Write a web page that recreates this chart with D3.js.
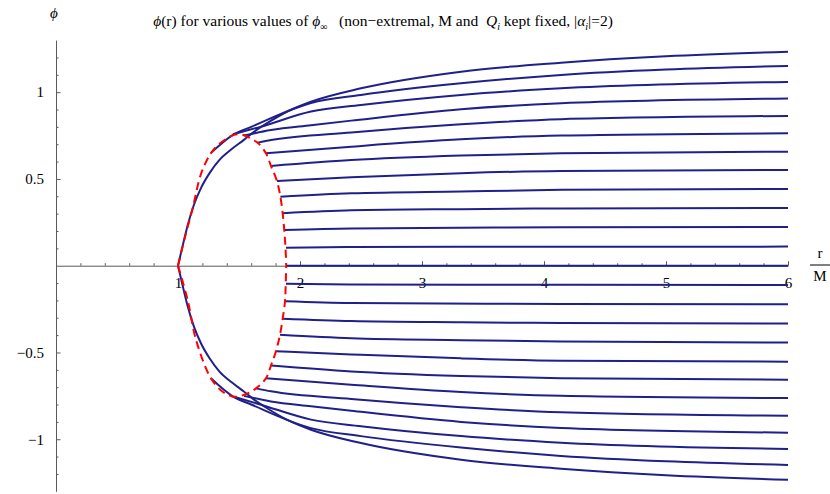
<!DOCTYPE html>
<html>
<head>
<meta charset="utf-8">
<script src="https://cdn.jsdelivr.net/npm/d3@7"></script>
<style>
  body { margin: 0; background: #fff; }
</style>
</head>
<body>
<div id="chart"></div>
<script>
// curves of phi(r), one per value of phi_inf, each as [r/M, phi]
const upperCurves = [
    [[1.885, 0.104], [2.42, 0.108], [4.14, 0.109], [6, 0.110]],
    [[1.871, 0.206], [2.42, 0.215], [4.14, 0.221], [6, 0.223]],
    [[1.858, 0.302], [2.42, 0.319], [3.32, 0.326], [4.14, 0.330], [6, 0.333]],
    [[1.839, 0.398], [2.42, 0.417], [3.32, 0.428], [4.14, 0.437], [6, 0.442]],
    [[1.811, 0.488], [2.42, 0.509], [3.32, 0.533], [4.14, 0.546], [6, 0.552]],
    [[1.762, 0.575], [2.42, 0.609], [3.32, 0.635], [4.14, 0.648], [6, 0.657]],
    [[1.721, 0.648], [2.42, 0.686], [3.32, 0.728], [4.14, 0.750], [6, 0.763]],
    [[1.653, 0.709], [1.762, 0.724], [2.42, 0.768], [3.32, 0.815], [4.14, 0.844], [6, 0.863]],
    [[1.541, 0.750], [1.762, 0.782], [2.09, 0.810], [2.42, 0.836], [3.32, 0.901], [4.14, 0.936], [6, 0.963]],
    [[1.45, 0.757], [1.68, 0.801], [2.09, 0.888], [2.5, 0.926], [3.32, 0.984], [4.14, 1.022], [6, 1.059]],
    [[1.27, 0.650], [1.451, 0.754], [1.6, 0.800], [2.09, 0.938], [2.5, 0.984], [3.32, 1.051], [4.14, 1.099], [5, 1.130], [6, 1.151]],
    [[1, 0], [1.04, 0.12], [1.08, 0.235], [1.13, 0.35], [1.19, 0.45], [1.26, 0.535], [1.34, 0.61], [1.44, 0.672], [1.54, 0.725],
     [1.62, 0.77], [1.75, 0.83], [1.9, 0.89], [2.09, 0.945], [2.5, 1.022], [3.32, 1.118], [4.14, 1.170], [5, 1.207], [6, 1.233]]
];

const zeroCurve = [[1.885, 0], [6, 0]];

const lowerCurves = [
    [[1.885, -0.104], [2.42, -0.108], [4.14, -0.110], [6, -0.111]],
    [[1.877, -0.205], [2.42, -0.215], [4.14, -0.220], [6, -0.222]],
    [[1.858, -0.305], [2.42, -0.319], [3.32, -0.326], [4.14, -0.330], [6, -0.333]],
    [[1.836, -0.398], [2.42, -0.418], [3.32, -0.429], [4.14, -0.437], [6, -0.443]],
    [[1.803, -0.493], [2.42, -0.511], [3.32, -0.534], [4.14, -0.547], [6, -0.553]],
    [[1.762, -0.575], [2.42, -0.609], [3.32, -0.635], [4.14, -0.648], [6, -0.657]],
    [[1.721, -0.649], [2.42, -0.686], [3.32, -0.728], [4.14, -0.750], [6, -0.763]],
    [[1.639, -0.707], [1.762, -0.724], [2.42, -0.768], [3.32, -0.815], [4.14, -0.845], [6, -0.865]],
    [[1.541, -0.750], [1.762, -0.782], [2.09, -0.810], [2.42, -0.836], [3.32, -0.900], [4.14, -0.935], [6, -0.962]],
    [[1.459, -0.755], [1.68, -0.801], [2.09, -0.887], [2.5, -0.925], [3.32, -0.982], [4.14, -1.020], [6, -1.056]],
    [[1.27, -0.649], [1.451, -0.754], [1.6, -0.800], [2.09, -0.936], [2.5, -0.982], [3.32, -1.048], [4.14, -1.096], [5, -1.127], [6, -1.148]],
    [[1, 0], [1.04, -0.12], [1.08, -0.235], [1.13, -0.35], [1.19, -0.45], [1.26, -0.535], [1.34, -0.61], [1.44, -0.672], [1.54, -0.725],
     [1.62, -0.77], [1.75, -0.83], [1.9, -0.89], [2.09, -0.945], [2.5, -1.022], [3.32, -1.118], [4.14, -1.170], [5, -1.208], [6, -1.234]]
];

// dashed red locus of the horizon values
const horizonUpper = [
    [1, 0], [1.066, 0.189], [1.12, 0.330], [1.189, 0.530], [1.27, 0.648], [1.336, 0.700],
    [1.459, 0.754], [1.541, 0.752], [1.612, 0.726], [1.653, 0.709], [1.721, 0.648],
    [1.762, 0.575], [1.811, 0.488], [1.839, 0.398], [1.858, 0.302], [1.871, 0.206],
    [1.881, 0.104], [1.887, 0]
];
const horizonLower = [
    [1, 0], [1.08, -0.200], [1.148, -0.428], [1.27, -0.649], [1.366, -0.726],
    [1.459, -0.755], [1.557, -0.740], [1.639, -0.707], [1.721, -0.649], [1.762, -0.575],
    [1.803, -0.493], [1.836, -0.398], [1.858, -0.305], [1.877, -0.205], [1.883, -0.104], [1.887, 0]
];

const xTicks = [1, 2, 3, 4, 5, 6];
const yTicks = [-1, -0.5, 0.5, 1];
const yTickLabels = ["\u22121", "\u22120.5", "0.5", "1"];

const width = 830;
const height = 494;
const blue = "#20208a";
const axisGray = "#5a5a5a";
const PHI = "\u03d5";
const SERIF = "'Liberation Serif', 'Times New Roman', Times, serif";

const svg = d3.select("#chart").append("svg")
    .attr("width", width)
    .attr("height", height)
    .attr("font-family", SERIF);

const x = d3.scaleLinear().domain([0, 6]).range([56, 788]);
const y = d3.scaleLinear().domain([-1.3, 1.3]).range([491.3, 40.1]);

// x axis: minor ticks, then major ticks with labels
const xMinor = d3.range(1, 31).map(i => i / 5).filter(v => Math.abs(v - Math.round(v)) > 1e-6);
svg.append("g")
    .attr("transform", `translate(0,${y(0)})`)
    .call(d3.axisBottom(x).tickValues(xMinor).tickSize(-2.5).tickSizeOuter(0).tickFormat(""))
    .call(g => g.select(".domain").remove());
svg.append("g")
    .attr("transform", `translate(0,${y(0)})`)
    .call(d3.axisBottom(x).tickValues(xTicks).tickSize(-4.5).tickSizeOuter(0).tickPadding(12).tickFormat(d3.format("d")))
    .attr("font-family", SERIF)
    .attr("font-size", 15)
    .call(g => g.selectAll("text").attr("fill", "#000"));

// y axis
const yMinor = d3.range(-12, 13).map(i => i / 10).filter(v => Math.abs(v * 2 - Math.round(v * 2)) > 1e-6);
svg.append("g")
    .attr("transform", `translate(${x(0)},0)`)
    .call(d3.axisLeft(y).tickValues(yMinor).tickSize(-2.5).tickSizeOuter(0).tickFormat(""))
    .call(g => g.select(".domain").remove());
svg.append("g")
    .attr("transform", `translate(${x(0)},0)`)
    .call(d3.axisLeft(y).tickValues(yTicks).tickSize(-4.5).tickSizeOuter(0).tickPadding(12)
        .tickFormat((d, i) => yTickLabels[i]))
    .attr("font-family", SERIF)
    .attr("font-size", 15)
    .call(g => g.selectAll("text").attr("fill", "#000"));

svg.selectAll(".domain, .tick line").attr("stroke", axisGray).attr("stroke-width", 1);

// blue curves
const line = d3.line()
    .x(d => x(d[0]))
    .y(d => y(d[1]))
    .curve(d3.curveMonotoneX);

const allCurves = upperCurves.concat([zeroCurve], lowerCurves);
svg.append("g").selectAll("path")
    .data(allCurves)
    .enter()
    .append("path")
    .attr("d", line)
    .attr("fill", "none")
    .attr("stroke", blue)
    .attr("stroke-width", 2);

// red dashed horizon locus
const loop = d3.line()
    .x(d => x(d[0]))
    .y(d => y(d[1]))
    .curve(d3.curveCatmullRom.alpha(0.5));

svg.append("g").selectAll("path")
    .data([horizonUpper, horizonLower])
    .enter()
    .append("path")
    .attr("d", loop)
    .attr("fill", "none")
    .attr("stroke", "#ff0000")
    .attr("stroke-width", 2)
    .attr("stroke-dasharray", "8,5");

// title
const title = svg.append("text")
    .attr("x", 383)
    .attr("y", 26)
    .attr("text-anchor", "middle")
    .attr("font-family", SERIF)
    .attr("font-size", 15.5)
    .style("white-space", "pre");
title.append("tspan").attr("font-style", "italic").text(PHI);
title.append("tspan").text("(r) for various values of ");
title.append("tspan").attr("font-style", "italic").text(PHI);
title.append("tspan").attr("font-size", 10).attr("dy", 4).text("\u221e");
title.append("tspan").attr("dy", -4).text("   (non\u2212extremal, M and  ");
title.append("tspan").attr("font-style", "italic").text("Q");
title.append("tspan").attr("font-style", "italic").attr("font-size", 10).attr("dy", 4).text("i");
title.append("tspan").attr("dy", -4).text(" kept fixed, |");
title.append("tspan").attr("font-style", "italic").text("\u03b1");
title.append("tspan").attr("font-style", "italic").attr("font-size", 10).attr("dy", 4).text("i");
title.append("tspan").attr("dy", -4).text("|=2)");

// axis labels
svg.append("text")
    .attr("x", 54)
    .attr("y", 18)
    .attr("text-anchor", "middle")
    .attr("font-size", 15)
    .attr("font-style", "italic")
    .text(PHI);

svg.append("text")
    .attr("x", 820)
    .attr("y", 258)
    .attr("text-anchor", "middle")
    .attr("font-size", 15)
    .text("r");
svg.append("line")
    .attr("x1", 810).attr("x2", 830)
    .attr("y1", 265).attr("y2", 265)
    .attr("stroke", "#000")
    .attr("stroke-width", 1);
svg.append("text")
    .attr("x", 820)
    .attr("y", 281)
    .attr("text-anchor", "middle")
    .attr("font-size", 15)
    .text("M");
</script>
</body>
</html>
